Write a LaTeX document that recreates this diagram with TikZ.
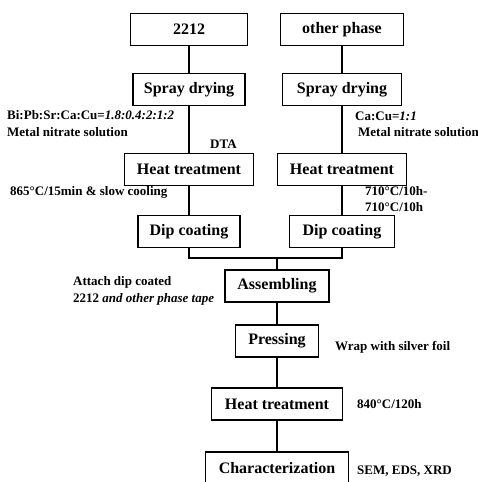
\documentclass[tikz,border=0pt]{standalone}
\usepackage{fontspec}
\setmainfont{Liberation Serif}
\usepackage{tikz}
\usetikzlibrary{positioning}
\tikzstyle{stepbox} = [rectangle, draw=black, line width=1.4pt, minimum height=32pt, text centered, font=\fontsize{16}{18}\selectfont\bfseries]
\tikzstyle{note} = [inner sep=0pt, align=left, font=\fontsize{13}{16.5}\selectfont\bfseries]
\tikzstyle{link} = [line width=1.1pt, color=black]

\begin{document}
\begin{tikzpicture}[x=1pt, y=-1pt]
\useasboundingbox (0,0) rectangle (478,482);

% 2212 column
\node (a1) [stepbox, minimum width=117pt] at (189,29.5) {2212};
\node (a2) [stepbox, below of=a1, node distance=60pt, minimum width=112pt] {Spray drying};
\node (a3) [stepbox, below of=a2, node distance=80pt, minimum width=129pt] {Heat treatment};
\node (a4) [stepbox, below of=a3, node distance=62pt, minimum width=102pt] {Dip coating};

% other phase column
\node (b1) [stepbox, minimum width=123pt] at (342,29.5) {other phase};
\node (b2) [stepbox, below of=b1, node distance=60pt, minimum width=119pt] {Spray drying};
\node (b3) [stepbox, below of=b2, node distance=80pt, minimum width=129pt] {Heat treatment};
\node (b4) [stepbox, below of=b3, node distance=62pt, minimum width=105pt] {Dip coating};

% joined tape
\coordinate (j) at (277,258);
\node (c1) [stepbox, below of=j, node distance=28pt, minimum width=104pt] {Assembling};
\node (c2) [stepbox, below of=c1, node distance=55pt, minimum width=83pt] {Pressing};
\node (c3) [stepbox, below of=c2, node distance=63pt, minimum width=131pt] {Heat treatment};
\node (c4) [stepbox, below of=c3, node distance=64pt, minimum width=143pt] {Characterization};

% Notes
\node (n1) [note, anchor=west] at (7,123.5) {Bi:Pb:Sr:Ca:Cu=\textit{1.8:0.4:2:1:2}\\Metal nitrate solution};
\node (n2) [note, anchor=west] at (210,144) {DTA};
\node (n3) [note, anchor=west] at (10,192) {865°C/15min \& slow cooling};
\node (n4) [note, anchor=west] at (355,124.5) {Ca:Cu=\textit{1:1}\\\hspace*{3pt}Metal nitrate solution};
\node (n5) [note, anchor=west] at (365,199) {710°C/10h-\\710°C/10h};
\node (n6) [note, anchor=west] at (73,291) {Attach dip coated\\2212 \textit{and other phase tape}};
\node (n7) [note, anchor=west] at (335,347) {Wrap with silver foil};
\node (n8) [note, anchor=west] at (357,404) {840°C/120h};
\node (n9) [note, anchor=west] at (357,471) {SEM, EDS, XRD};

% Connections
\draw[link] (a1) -- (a2);
\draw[link] (a2) -- (a3);
\draw[link] (a3) -- (a4);
\draw[link] (b1) -- (b2);
\draw[link] (b2) -- (b3);
\draw[link] (b3) -- (b4);
\draw[link] (a4.south) |- (j) -| (b4.south);
\draw[link] (j) -- (c1);
\draw[link] (c1) -- (c2);
\draw[link] (c2) -- (c3);
\draw[link] (c3) -- (c4);
\end{tikzpicture}
\end{document}
